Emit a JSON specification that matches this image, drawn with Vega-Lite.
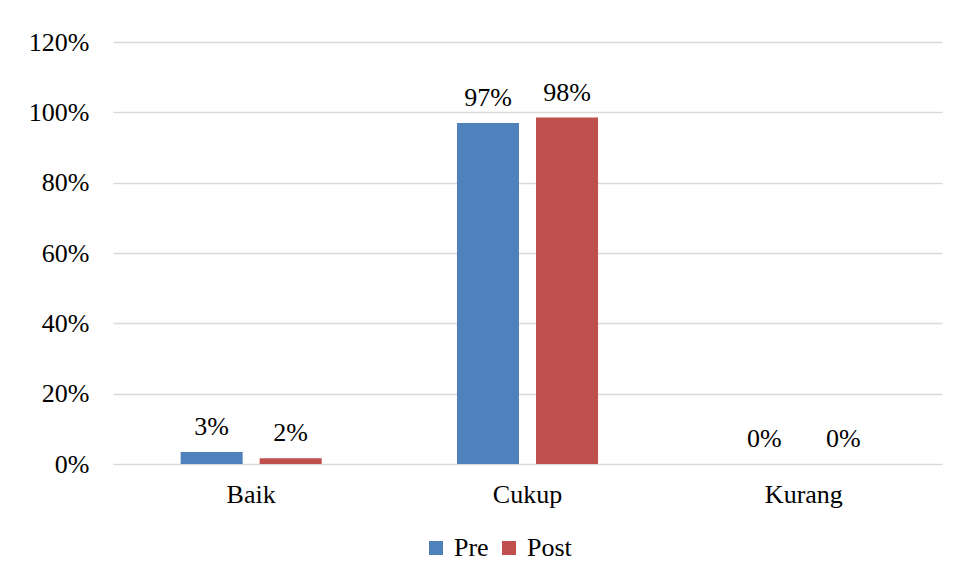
{
  "$schema": "https://vega.github.io/schema/vega-lite/v6.json",
  "autosize": {"type": "none"},
  "width": 829,
  "height": 422,
  "padding": {"left": 113, "top": 42, "right": 15, "bottom": 114},
  "background": "white",
  "config": {
    "view": {"stroke": null},
    "font": "Liberation Serif",
    "axis": {"labelFont": "Liberation Serif", "labelFontSize": 26, "labelColor": "#000000"},
    "legend": {"labelFont": "Liberation Serif", "labelFontSize": 26, "labelColor": "#000000"}
  },
  "data": {
    "values": [
      {"category": "Baik", "series": "Pre", "value": 0.034, "label": "3%"},
      {"category": "Baik", "series": "Post", "value": 0.016, "label": "2%"},
      {"category": "Cukup", "series": "Pre", "value": 0.97, "label": "97%"},
      {"category": "Cukup", "series": "Post", "value": 0.985, "label": "98%"},
      {"category": "Kurang", "series": "Pre", "value": 0, "label": "0%"},
      {"category": "Kurang", "series": "Post", "value": 0, "label": "0%"}
    ]
  },
  "encoding": {
    "x": {
      "field": "category", "type": "nominal", "sort": ["Baik", "Cukup", "Kurang"],
      "scale": {"paddingInner": 0, "paddingOuter": 0},
      "axis": {"title": null, "labelAngle": 0, "domain": false, "ticks": false, "labelPadding": 17}
    },
    "xOffset": {
      "field": "series", "type": "nominal", "sort": ["Pre", "Post"],
      "scale": {"paddingInner": 0.215, "paddingOuter": 0.856}
    },
    "y": {
      "field": "value", "type": "quantitative",
      "scale": {"domain": [0, 1.2], "nice": false},
      "axis": {"title": null, "format": ".0%", "values": [0, 0.2, 0.4, 0.6, 0.8, 1.0, 1.2], "domain": false, "ticks": false, "labelPadding": 24, "gridColor": "#d9d9d9", "gridWidth": 1.5}
    }
  },
  "layer": [
    {
      "mark": {"type": "bar"},
      "encoding": {
        "color": {
          "field": "series", "type": "nominal", "sort": ["Pre", "Post"],
          "scale": {"domain": ["Pre", "Post"], "range": ["#4F81BD", "#C0504D"]},
          "legend": {
            "title": null, "orient": "none", "direction": "horizontal",
            "legendX": 310, "legendY": 493,
            "symbolType": "square", "symbolSize": 196, "symbolStrokeWidth": 0,
            "labelOffset": 5, "columnPadding": 7
          }
        }
      }
    },
    {
      "mark": {"type": "text", "baseline": "alphabetic", "dy": -17, "fontSize": 26, "font": "Liberation Serif", "color": "#000000"},
      "encoding": {"text": {"field": "label"}}
    }
  ]
}
